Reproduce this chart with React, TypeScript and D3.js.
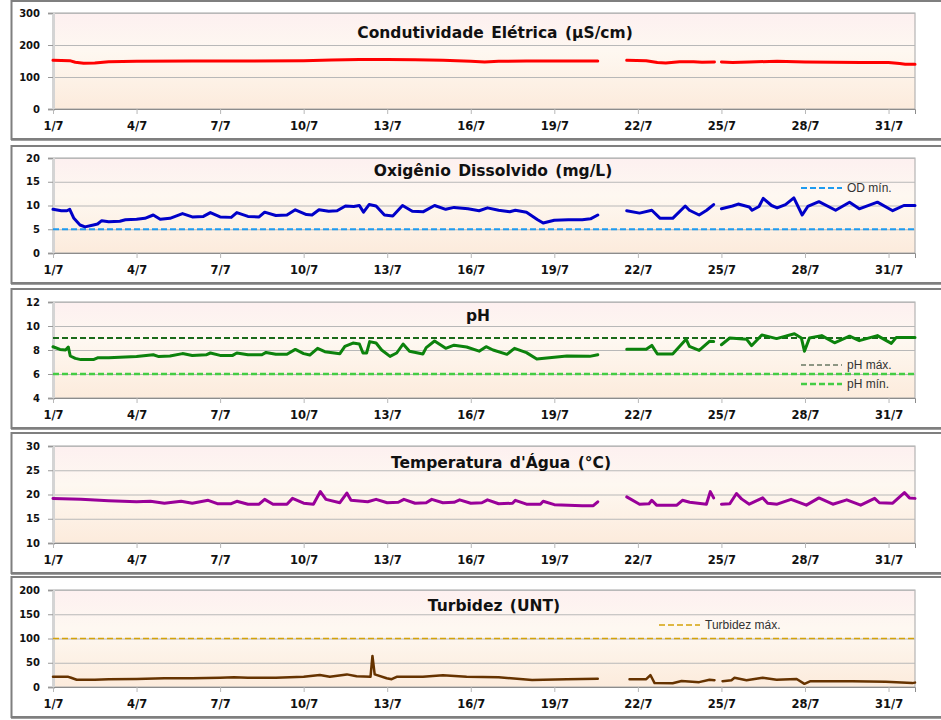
import React, { useEffect, useRef } from "react";
import * as d3 from "d3";

type Pt = [number, number | null];

// days since 1/7 00:00
const dayTicks = [0, 3, 6, 9, 12, 15, 18, 21, 24, 27, 30];
const dayLabels = ["1/7", "4/7", "7/7", "10/7", "13/7", "16/7", "19/7", "22/7", "25/7", "28/7", "31/7"];

const conductivity: Pt[] = [
  [0, 152], [0.6, 151], [0.8, 146], [1.1, 143], [1.5, 144], [2, 148], [3, 149], [5, 150], [7, 150],
  [9, 151], [10, 153], [11, 155], [12, 155], [13, 154], [14, 152], [15, 149], [15.5, 147], [16, 149],
  [17, 150], [18, 150], [19, 150], [19.56, 150], [19.57, null],
  [20.6, 152], [21.3, 151], [21.7, 145], [22.0, 144], [22.5, 148], [23.0, 148], [23.3, 146], [23.75, 147], [23.76, null],
  [24.0, 147], [24.4, 145], [25, 147], [26, 149], [27, 147], [28, 146], [29, 145], [30, 145], [30.4, 142],
  [30.6, 140], [30.95, 140],
];

const oxygen: Pt[] = [
  [0, 9.2], [0.3, 8.9], [0.5, 8.9], [0.6, 9.2], [0.75, 7.3], [0.97, 5.9], [1.15, 5.5], [1.45, 5.9], [1.6, 6.1],
  [1.75, 6.8], [2.0, 6.6], [2.4, 6.7], [2.6, 7.0], [3.0, 7.1], [3.3, 7.3], [3.6, 8.0], [3.85, 7.1], [4.2, 7.3],
  [4.65, 8.3], [5.0, 7.6], [5.4, 7.7], [5.65, 8.5], [6.0, 7.6], [6.4, 7.5], [6.6, 8.5], [7.0, 7.7], [7.4, 7.6],
  [7.6, 8.6], [8.0, 7.9], [8.4, 8.0], [8.7, 9.1], [9.1, 8.1], [9.3, 8.0], [9.55, 9.1], [9.9, 8.8], [10.2, 8.9],
  [10.5, 9.9], [10.8, 9.8], [11.0, 10.0], [11.15, 8.6], [11.35, 10.2], [11.6, 9.9], [11.9, 8.0], [12.2, 7.8],
  [12.55, 10.0], [12.9, 8.8], [13.3, 8.7], [13.7, 10.0], [14.1, 9.2], [14.4, 9.6], [14.9, 9.3], [15.3, 8.9],
  [15.6, 9.5], [16.0, 9.0], [16.4, 8.7], [16.6, 9.0], [17.0, 8.6], [17.4, 7.0], [17.6, 6.3], [18.0, 6.9],
  [18.5, 7.0], [19.0, 7.0], [19.3, 7.2], [19.56, 8.0], [19.57, null],
  [20.6, 8.9], [21.06, 8.4], [21.5, 9.0], [21.8, 7.3], [22.25, 7.3], [22.7, 9.9], [22.85, 9.0], [23.2, 8.0],
  [23.47, 9.0], [23.72, 10.2], [23.73, null],
  [24.0, 9.3], [24.4, 9.9], [24.6, 10.3], [25.0, 9.7], [25.1, 9.0], [25.35, 9.8], [25.5, 11.5], [25.8, 10.0],
  [26.0, 9.5], [26.3, 10.2], [26.6, 11.6], [26.9, 8.0], [27.1, 9.8], [27.5, 10.8], [28.1, 9.0], [28.6, 10.7],
  [28.95, 9.3], [29.6, 10.7], [30.15, 8.9], [30.55, 10.0], [30.95, 10.0],
];

const ph: Pt[] = [
  [0, 8.27], [0.25, 8.05], [0.45, 8.0], [0.55, 8.25], [0.62, 7.5], [0.8, 7.3], [1.0, 7.2], [1.45, 7.2],
  [1.6, 7.35], [2.0, 7.35], [3.0, 7.45], [3.6, 7.6], [3.8, 7.45], [4.2, 7.5], [4.65, 7.7], [5.0, 7.55],
  [5.5, 7.6], [5.65, 7.75], [6.0, 7.55], [6.45, 7.55], [6.6, 7.75], [7.0, 7.6], [7.5, 7.6], [7.65, 7.8],
  [8.0, 7.65], [8.4, 7.65], [8.7, 8.05], [9.0, 7.7], [9.22, 7.58], [9.5, 8.14], [9.76, 7.86], [10.3, 7.69],
  [10.48, 8.3], [10.77, 8.58], [11.0, 8.5], [11.13, 7.75], [11.26, 7.75], [11.37, 8.7], [11.6, 8.58],
  [11.8, 8.0], [12.1, 7.47], [12.34, 7.75], [12.57, 8.5], [12.8, 7.9], [13.28, 7.67], [13.4, 8.2],
  [13.7, 8.75], [14.1, 8.14], [14.4, 8.4], [14.85, 8.25], [15.3, 7.9], [15.55, 8.28], [15.8, 8.0],
  [16.3, 7.64], [16.57, 8.14], [17.0, 7.78], [17.37, 7.25], [18.45, 7.5], [19.27, 7.47], [19.56, 7.6], [19.57, null],
  [20.6, 8.06], [21.3, 8.06], [21.5, 8.38], [21.7, 7.67], [22.25, 7.67], [22.73, 8.9], [22.85, 8.3],
  [23.2, 7.97], [23.57, 8.72], [23.72, 8.7], [23.73, null],
  [24.0, 8.44], [24.3, 9.0], [24.9, 8.9], [25.08, 8.36], [25.45, 9.25], [25.98, 8.95], [26.62, 9.35],
  [26.87, 9.0], [26.98, 7.9], [27.16, 9.0], [27.6, 9.2], [28.06, 8.6], [28.6, 9.15], [28.95, 8.78],
  [29.6, 9.2], [30.1, 8.55], [30.28, 9.05], [30.95, 9.05],
];

const temperature: Pt[] = [
  [0, 19.2], [1, 19.0], [2, 18.7], [2.5, 18.6], [3, 18.5], [3.5, 18.6], [4, 18.2], [4.6, 18.6], [5, 18.2],
  [5.57, 18.8], [5.9, 18.1], [6.4, 18.1], [6.6, 18.6], [7.0, 18.0], [7.4, 18.0], [7.6, 19.0], [7.9, 18.0],
  [8.4, 18.0], [8.6, 19.2], [9.0, 18.2], [9.35, 18.0], [9.6, 20.6], [9.8, 19.0], [10.3, 18.3], [10.55, 20.3],
  [10.7, 18.8], [11.3, 18.5], [11.6, 19.0], [12.0, 18.3], [12.4, 18.4], [12.6, 19.0], [13.0, 18.2],
  [13.4, 18.3], [13.6, 19.0], [14.0, 18.3], [14.4, 18.4], [14.6, 18.9], [15.0, 18.2], [15.4, 18.3],
  [15.6, 18.9], [16.0, 18.1], [16.5, 18.2], [16.6, 18.8], [17.0, 18.0], [17.5, 18.0], [17.6, 18.6],
  [18.0, 17.9], [19.0, 17.7], [19.4, 17.7], [19.56, 18.5], [19.57, null],
  [20.6, 19.5], [21.06, 18.0], [21.4, 18.1], [21.5, 18.8], [21.67, 17.8], [22.4, 17.8], [22.6, 18.8],
  [22.86, 18.4], [23.46, 18.0], [23.6, 20.6], [23.72, 19.3], [23.73, null],
  [24.0, 18.0], [24.3, 18.1], [24.54, 20.2], [24.72, 19.1], [25.0, 18.0], [25.48, 19.3], [25.66, 18.2],
  [26.0, 18.0], [26.5, 19.0], [27.05, 17.8], [27.5, 19.3], [28.0, 18.0], [28.5, 18.9], [29.0, 17.8],
  [29.5, 19.2], [29.67, 18.3], [30.15, 18.2], [30.57, 20.4], [30.75, 19.3], [30.95, 19.2],
];

const turbidity: Pt[] = [
  [0, 21], [0.55, 21], [0.65, 19], [0.85, 15], [1.5, 15], [2, 16], [3, 16.5], [4, 18], [5, 18], [6, 19],
  [6.5, 20], [7, 19], [8, 19], [9, 21], [9.58, 24.7], [9.94, 21], [10.55, 26], [10.9, 22], [11.4, 21],
  [11.47, 64], [11.55, 26], [11.98, 18], [12.16, 16], [12.34, 21], [13.28, 21], [14, 24], [14.85, 21],
  [16, 20], [17.2, 14.4], [18.45, 15.8], [19.56, 17], [19.57, null],
  [20.7, 16], [21.3, 16], [21.45, 24.7], [21.6, 8], [22.25, 7.6], [22.57, 12.4], [23.2, 10], [23.57, 15],
  [23.75, 14], [23.76, null],
  [24.04, 12], [24.36, 14], [24.47, 19], [24.9, 14], [25.48, 19], [25.98, 15], [26.7, 16.5], [26.98, 6.5],
  [27.2, 12], [28.7, 12], [29.9, 11], [30.85, 8], [30.95, 9],
];

const odMin = 5;
const phMax = 9;
const phMin = 6;
const turbMax = 100;

const App: React.FC = () => {
  const svgRef = useRef<SVGSVGElement | null>(null);

  useEffect(() => {
    const width = 941;
    const height = 720;
    const plotLeft = 53;
    const plotRight = 915;

    const svg = d3.select(svgRef.current);
    svg.selectAll("*").remove();
    svg.attr("width", width).attr("height", height);

    const grad = svg
      .append("defs")
      .append("linearGradient")
      .attr("id", "bg")
      .attr("x1", 0).attr("y1", 0).attr("x2", 0).attr("y2", 1);
    grad.append("stop").attr("offset", "0%").attr("stop-color", "#fdf0f0");
    grad.append("stop").attr("offset", "40%").attr("stop-color", "#fef8f1");
    grad.append("stop").attr("offset", "100%").attr("stop-color", "#fcebdc");

    const x = d3.scaleLinear().domain([0, 30.95]).range([plotLeft, plotRight]);

    const panels = [
      { title: "Condutividade Elétrica (µS/cm)", titleX: 495, titleY: 38, frame: [1, 139], plot: [13, 109], domain: [0, 300], step: 100, data: conductivity, color: "#ff0000", lw: 3 },
      { title: "Oxigênio Dissolvido (mg/L)", titleX: 493, titleY: 176, frame: [146, 283], plot: [158, 253], domain: [0, 20], step: 5, data: oxygen, color: "#0000c8", lw: 3 },
      { title: "pH", titleX: 478, titleY: 321, frame: [289, 428], plot: [302, 398], domain: [4, 12], step: 2, data: ph, color: "#0c820c", lw: 3 },
      { title: "Temperatura d'Água (°C)", titleX: 501, titleY: 468, frame: [433, 573], plot: [446, 543], domain: [10, 30], step: 5, data: temperature, color: "#990099", lw: 3 },
      { title: "Turbidez (UNT)", titleX: 494, titleY: 611, frame: [577, 717], plot: [590, 687], domain: [0, 200], step: 50, data: turbidity, color: "#663300", lw: 2.5 },
    ];

    panels.forEach((p, i) => {
      const g = svg.append("g");
      const [top, bottom] = p.plot;
      const y = d3.scaleLinear().domain(p.domain).range([bottom, top]);
      const ticks = d3.range(p.domain[0], p.domain[1] + p.step / 2, p.step);

      // Frame
      g.append("rect")
        .attr("x", 11.5)
        .attr("y", p.frame[0])
        .attr("width", 960)
        .attr("height", p.frame[1] - p.frame[0])
        .attr("fill", "#fff")
        .attr("stroke", "#7f7f7f")
        .attr("stroke-width", 2);
      g.append("line")
        .attr("x1", 11).attr("x2", 960)
        .attr("y1", p.frame[1] + 1.5).attr("y2", p.frame[1] + 1.5)
        .attr("stroke", "#a0a0a0");

      // Plot area
      g.append("rect")
        .attr("x", plotLeft)
        .attr("y", top)
        .attr("width", plotRight - plotLeft)
        .attr("height", bottom - top)
        .attr("fill", "url(#bg)")
        .attr("stroke", "#a6a6a6");

      // Gridlines
      g.append("g")
        .attr("transform", `translate(${plotLeft},0)`)
        .call(d3.axisLeft(y).tickValues(ticks).tickSize(-(plotRight - plotLeft)).tickFormat(() => ""))
        .call(s => s.select(".domain").remove())
        .call(s => s.selectAll("line").attr("stroke", "#b8b8b8"));

      // Y axis
      g.append("g")
        .attr("transform", `translate(${plotLeft},0)`)
        .call(d3.axisLeft(y).tickValues(ticks).tickSize(5).tickPadding(8).tickFormat(d => String(d)))
        .call(s => s.select(".domain").attr("stroke", "#d4d4d4").attr("stroke-width", 3))
        .call(s => s.selectAll("line").attr("stroke", "#999"))
        .call(s =>
          s.selectAll("text")
            .attr("font-family", "DejaVu Sans, Verdana, sans-serif")
            .attr("font-weight", "bold")
            .attr("font-size", 10)
            .attr("fill", "#111")
        );

      // X axis
      g.append("g")
        .attr("transform", `translate(0,${bottom})`)
        .call(
          d3.axisBottom(x)
            .tickValues(dayTicks)
            .tickSize(5)
            .tickPadding(8)
            .tickFormat((d, k) => dayLabels[k])
        )
        .call(s => s.select(".domain").attr("stroke", "#8c8c8c"))
        .call(s => s.selectAll("line").attr("stroke", "#b8b8b8"))
        .call(s =>
          s.selectAll("text")
            .attr("font-family", "DejaVu Sans, Verdana, sans-serif")
            .attr("font-weight", "bold")
            .attr("font-size", 11.5)
            .attr("fill", "#111")
        );

      // Title
      g.append("text")
        .attr("x", p.titleX)
        .attr("y", p.titleY)
        .attr("text-anchor", "middle")
        .attr("font-family", "DejaVu Sans, Verdana, sans-serif")
        .attr("font-weight", "bold")
        .attr("font-size", 15.5)
        .attr("word-spacing", 2)
        .attr("fill", "#111")
        .text(p.title);

      const limit = (v: number, color: string, w: number, dash: string) =>
        g.append("line")
          .attr("x1", plotLeft).attr("x2", plotRight)
          .attr("y1", y(v)).attr("y2", y(v))
          .attr("stroke", color)
          .attr("stroke-width", w)
          .attr("stroke-dasharray", dash);

      const legend = (lx: number, ly: number, label: string, color: string, w: number, dash: string) => {
        g.append("line")
          .attr("x1", lx).attr("x2", lx + 41)
          .attr("y1", ly).attr("y2", ly)
          .attr("stroke", color)
          .attr("stroke-width", w)
          .attr("stroke-dasharray", dash);
        g.append("text")
          .attr("x", lx + 46)
          .attr("y", ly + 4)
          .attr("font-family", "Liberation Sans, Arial, sans-serif")
          .attr("font-size", 12)
          .attr("fill", "#333")
          .text(label);
      };

      if (i === 1) {
        limit(odMin, "#1e9bf0", 2, "6,3");
        legend(801, 188, "OD mín.", "#1e9bf0", 2, "6,3");
      }
      if (i === 2) {
        limit(phMax, "#1a6a1a", 2, "6,3");
        limit(phMin, "#44cc44", 2.5, "6,3");
        legend(801, 365, "pH máx.", "#1f3a1f", 1.2, "5,3");
        legend(801, 384, "pH mín.", "#44cc44", 2.5, "6,3");
      }
      if (i === 4) {
        limit(turbMax, "#d4a20a", 1.6, "6,3");
        legend(659, 625, "Turbidez máx.", "#d4a20a", 1.6, "6,3");
      }

      // Series
      const line = d3
        .line<Pt>()
        .defined(d => d[1] !== null)
        .x(d => x(d[0]))
        .y(d => y(d[1] as number));

      g.append("path")
        .datum(p.data)
        .attr("d", line)
        .attr("fill", "none")
        .attr("stroke", p.color)
        .attr("stroke-width", p.lw)
        .attr("stroke-linejoin", "round")
        .attr("stroke-linecap", "round");
    });
  }, []);

  return <svg ref={svgRef} style={{ position: "absolute", left: 0, top: 0, display: "block" }}></svg>;
};

export default App;
